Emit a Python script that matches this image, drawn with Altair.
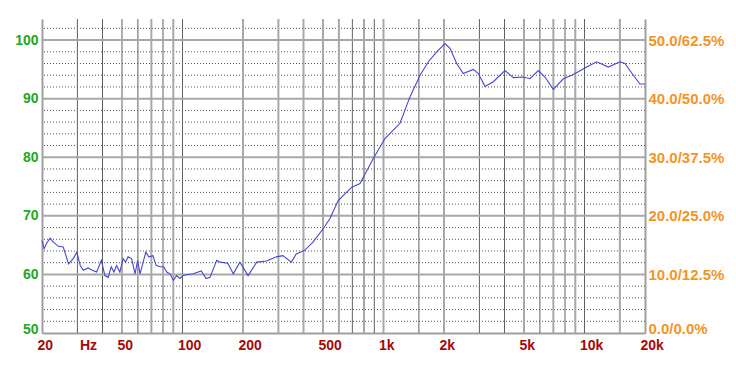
import altair as alt
import pandas as pd

# ---- data ----
freq = [20, 20.5, 21.0, 21.9, 22.8, 24.1, 25.5, 27.1, 28.6, 29.8, 31.0, 32.1, 33.9, 35.6, 37.4,
        39.5, 41.1, 42.7, 44.2, 45.6, 47.0, 48.8, 50.6, 52.1, 53.6, 55.8, 58.1, 59.8, 61.5, 63.7,
        65.7, 68.0, 71.3, 74.0, 77.6, 80.6, 83.5, 86.7, 90.0, 93.4, 97.1, 100.6, 106, 113, 124,
        131, 137, 148, 154, 168, 179, 193, 212, 234, 262, 293, 316, 348, 368, 405, 446, 501, 541,
        595, 695, 764, 890, 1017, 1208, 1354, 1520, 1672, 1840, 2024, 2143, 2313, 2494, 2798,
        2963, 3198, 3519, 4020, 4424, 4963, 5358, 5892, 6358, 6996, 7848, 8638, 9314, 10252,
        11502, 13138, 15020, 15900, 17492, 18880, 20000]
spl = [65.8, 64.4, 65.2, 66.2, 65.5, 64.8, 64.7, 61.8, 62.7, 63.8, 61.5, 60.7, 61.1, 60.7, 60.4,
       62.4, 59.8, 59.5, 61.3, 60.4, 61.5, 60.4, 62.7, 62.1, 63.0, 62.7, 60.1, 62.4, 60.1, 62.1,
       63.8, 63.0, 63.2, 61.5, 61.3, 61.3, 60.4, 60.1, 59.0, 59.8, 59.3, 59.8, 60.0, 60.1, 60.6,
       59.3, 59.5, 62.4, 62.1, 61.9, 60.1, 62.1, 59.8, 62.1, 62.3, 63.0, 63.2, 62.1, 63.5, 64.1,
       65.5, 67.8, 69.5, 72.6, 74.9, 75.5, 79.8, 83.2, 85.8, 90.3, 94.0, 96.3, 98.0, 99.4, 98.6,
       96.0, 94.3, 95.0, 94.3, 92.1, 92.9, 94.8, 93.6, 93.7, 93.4, 94.8, 93.7, 91.6, 93.4, 94.0,
       94.6, 95.4, 96.3, 95.4, 96.3, 96.0, 94.0, 92.5, 92.5]

x_ticks = [20, 30, 50, 100, 200, 500, 1000, 2000, 5000, 10000, 20000]
x_tick_labels = ["20", "Hz", "50", "100", "200", "500", "1k", "2k", "5k", "10k", "20k"]
y_ticks = [50, 60, 70, 80, 90, 100]
right_labels = ["0.0/0.0%", "10.0/12.5%", "20.0/25.0%", "30.0/37.5%", "40.0/50.0%", "50.0/62.5%"]

grid_dark = [30, 40, 50, 60, 80, 100, 700, 900, 1500, 3000, 4000, 6000, 8000, 10000]
grid_light = [70, 90, 200, 300, 400, 500, 600, 800, 1000, 2000, 5000, 7000, 9000, 15000]
major_y = [60, 70, 80, 90, 100]
minor_y = [52, 54, 56, 58, 62, 64, 66, 68, 72, 74, 76, 78, 82, 84, 86, 88, 92, 94, 96, 98, 102]

# ---- tables ----
curve = pd.DataFrame({"f": freq, "db": spl})
vdark = pd.DataFrame({"f": grid_dark})
vlight = pd.DataFrame({"f": grid_light})
hmajor = pd.DataFrame({"db": major_y})
hminor = pd.DataFrame({"db": minor_y})

xscale = alt.Scale(type="log", domain=[20, 20000], nice=False)
yscale = alt.Scale(domain=[50, 103.6], nice=False, zero=False)

x_expr = " : ".join(f"abs(datum.value - {v}) < 0.5 ? '{t}'" for v, t in zip(x_ticks, x_tick_labels)) + " : ''"
r_expr = " : ".join(f"abs(datum.value - {v}) < 0.5 ? '{t}'" for v, t in zip(y_ticks, right_labels)) + " : ''"

FONT = "Liberation Sans"
AXIS_GRAY = "#a0a0a0"
bottom_base = {"condition": {"test": "datum.value < 51", "value": "alphabetic"}, "value": "middle"}
x_offset = {"condition": {"test": "abs(datum.value - 30) < 0.5", "value": 2}, "value": -5}

x_axis = alt.Axis(values=x_ticks, labelExpr=x_expr, ticks=False, tickSize=0, grid=False,
                  domainColor=AXIS_GRAY, domainWidth=2, labelColor="#a80808", labelFont=FONT,
                  labelFontWeight="bold", labelFontSize=14, labelAlign="left", labelOffset=x_offset,
                  labelPadding=5, labelFlush=False, labelOverlap=False, title=None,
                  orient="bottom")
left_axis = alt.Axis(values=y_ticks, ticks=False, tickSize=0, grid=False, domainColor=AXIS_GRAY,
                     domainWidth=2, labelColor="#22a822", labelFont=FONT, labelFontWeight="bold",
                     labelFontSize=14, labelPadding=4, labelFlush=False, labelOverlap=False,
                     labelBaseline=bottom_base, orient="left", title=None)
right_axis = alt.Axis(values=y_ticks, labelExpr=r_expr, ticks=False, tickSize=0, grid=False,
                      domainColor=AXIS_GRAY, domainWidth=2, labelColor="#f39526", labelFont=FONT,
                      labelFontWeight="bold", labelFontSize=15, labelPadding=3, labelFlush=False,
                      labelOverlap=False, labelBaseline=bottom_base, orient="right", title=None)

minor = alt.Chart(hminor).mark_rule(color="#505050", strokeWidth=1, strokeDash=[1, 2]).encode(
    y=alt.Y("db:Q", scale=yscale, axis=None))
light = alt.Chart(vlight).mark_rule(color="#a8a8a8", strokeWidth=2).encode(
    x=alt.X("f:Q", scale=xscale, axis=x_axis))
dark = alt.Chart(vdark).mark_rule(color="#606060", strokeWidth=1).encode(
    x=alt.X("f:Q", scale=xscale, axis=x_axis))
major = alt.Chart(hmajor).mark_rule(color="#a8a8a8", strokeWidth=2).encode(
    y=alt.Y("db:Q", scale=yscale, axis=right_axis))
line = alt.Chart(curve).mark_line(color="#4848cc", strokeWidth=1.1).encode(
    x=alt.X("f:Q", scale=xscale, axis=x_axis),
    y=alt.Y("db:Q", scale=yscale, axis=left_axis))

chart = alt.layer(minor, light, dark, major, line).resolve_axis(y="independent").properties(
    width=603, height=314, autosize="none",
    padding={"left": 42, "top": 19, "right": 91, "bottom": 33},
    background="white",
).configure_view(stroke=None)

chart.save("out.html", embed_options={"renderer": "svg", "actions": False})
